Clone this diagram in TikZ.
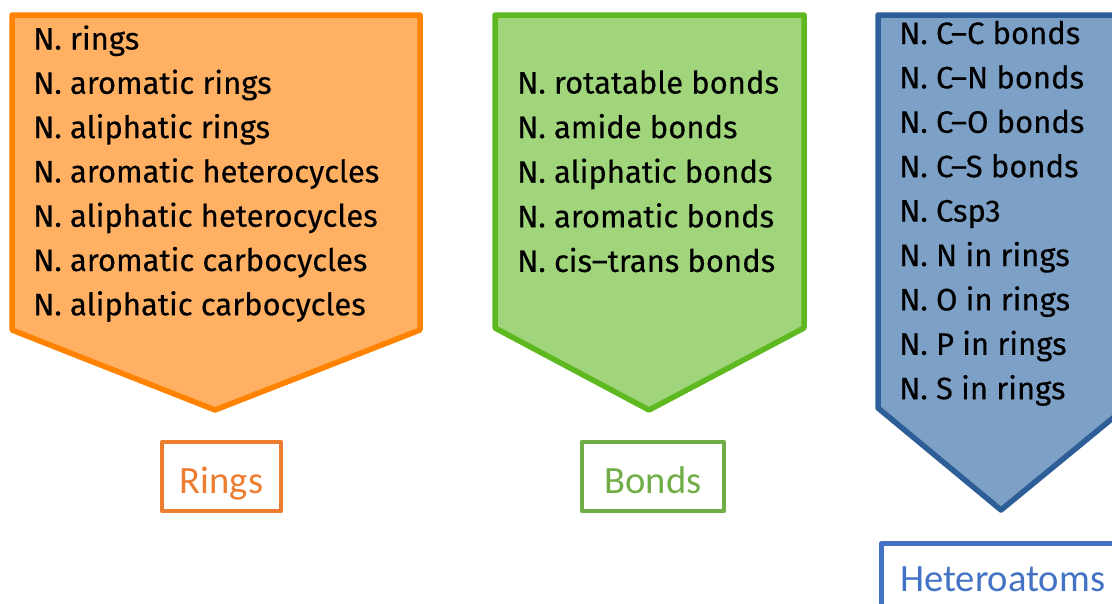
\documentclass[tikz,border=0pt]{standalone}
\usepackage{fontspec}
\setmainfont[FakeBold=0.35]{Fira Sans}
\newfontfamily\labelfont{Carlito}
\usetikzlibrary{positioning}

\definecolor{ringfill}{HTML}{FFB063}
\definecolor{ringline}{HTML}{FF8200}
\definecolor{bondfill}{HTML}{A0D57B}
\definecolor{bondline}{HTML}{5EB820}
\definecolor{hetfill}{HTML}{7DA0C6}
\definecolor{hetline}{HTML}{2E5E98}
\definecolor{ringtag}{HTML}{ED7D31}
\definecolor{bondtag}{HTML}{70AD47}
\definecolor{hettag}{HTML}{4472C4}

\begin{document}
\begin{tikzpicture}[
    x=1pt, y=-1pt,
    arrowbox/.style={line width=5.5pt, line join=round},
    item/.style={anchor=base west, inner sep=0pt, font=\fontsize{31}{36}\selectfont},
    tag/.style={
        draw,
        line width=4.5pt,
        line join=round,
        minimum height=69pt,
        inner sep=0pt,
        text height=34pt,
        text depth=0pt,
        font=\labelfont\fontsize{38.6}{44}\selectfont
    }
]
\useasboundingbox (0,0) rectangle (1112,603);
\clip (0,0) rectangle (1112,603);

% ----------------------------------------------------------
% chevrons
% ----------------------------------------------------------
\draw[arrowbox, fill=ringfill, draw=ringline]
    (12,15) -- (420,15) -- (420,330) -- (215,410) -- (12,330) -- cycle;
\draw[arrowbox, fill=bondfill, draw=bondline]
    (495,15) -- (804,15) -- (804,328) -- (649,410) -- (495,328) -- cycle;
\draw[arrowbox, fill=hetfill, draw=hetline]
    (878,15) -- (1125,15) -- (1125,408) -- (1001,510) -- (878,408) -- cycle;

% ----------------------------------------------------------
% descriptor lists
% ----------------------------------------------------------
\foreach \txt [count=\i] in {N. rings, N. aromatic rings, N. aliphatic rings,
    N. aromatic heterocycles, N. aliphatic heterocycles,
    N. aromatic carbocycles, N. aliphatic carbocycles}
    \node[item] (ring\i) at (33, 49.5+44.3*\i-44.3) {\txt};

\foreach \txt [count=\i] in {N. rotatable bonds, N. amide bonds,
    N. aliphatic bonds, N. aromatic bonds, N. cis--trans bonds}
    \node[item] (bond\i) at (517, 93.5+44.6*\i-44.6) {\txt};

\foreach \txt [count=\i] in {N. C--C bonds, N. C--N bonds, N. C--O bonds,
    N. C--S bonds, N. Csp3, N. N in rings, N. O in rings,
    N. P in rings, N. S in rings}
    \node[item] (het\i) at (899, 44+44.4*\i-44.4) {\txt};

% ----------------------------------------------------------
% group labels
% ----------------------------------------------------------
\node[tag, draw=ringtag, text=ringtag, minimum width=119pt] (rings) at (221.5,476.5) {Rings};
\node[tag, draw=bondtag, text=bondtag, minimum width=142pt] (bonds) at (653,476.5) {Bonds};
\node[tag, draw=hettag, text=hettag, minimum width=243pt, text height=27pt,
      anchor=north west] (hetero) at (879,541) {Heteroatoms};

\end{tikzpicture}
\end{document}
